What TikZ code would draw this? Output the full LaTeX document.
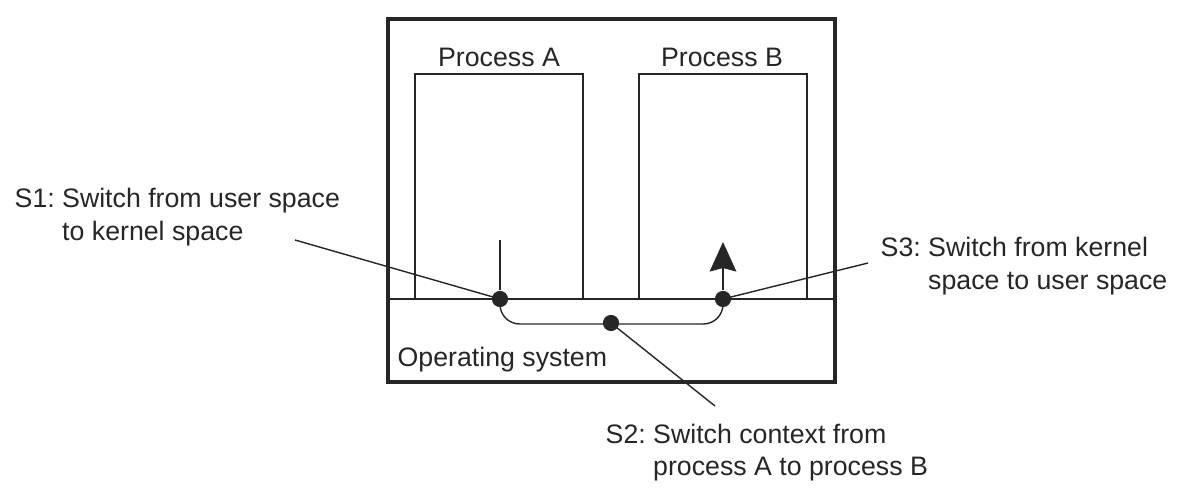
\documentclass[tikz,border=0pt]{standalone}
\usepackage{fontspec}
\setmainfont{Liberation Sans}
\usetikzlibrary{arrows.meta}

\newcommand{\switchtext}[3]{\begin{tabular}[t]{@{}l@{\ }l@{}}#1 & #2\\ & #3\end{tabular}}

\tikzset{
  dot/.style={circle, fill=black!85, inner sep=0pt, minimum size=11.5pt},
  txt/.style={anchor=base west, inner sep=0pt, font=\fontsize{19}{23.4}\selectfont}
}

\begin{document}
\begin{tikzpicture}[x=0.025cm, y=-0.025cm, line width=1pt, color=black!85]

\useasboundingbox (0,0) rectangle (1186,492);
%\draw (0,0) grid (1186,492);

\draw [line width=2.2pt] (388,19) rectangle (835,382);
\draw (415,74) rectangle (583,299); \node [txt, anchor=base] (procA) at (499,67) {Process A};
\draw (639,74) rectangle (807,299); \node [txt, anchor=base] (procB) at (722,67) {Process B};
\draw (388,299) -- (835,299); \node [txt] (os) at (397,367) {Operating system};

\node [dot] (s1dot) at (500,299) {};
\node [dot] (s2dot) at (611,323) {};
\node [dot] (s3dot) at (723,299) {};
\coordinate (s1top) at (500,240);
\coordinate (s3tip) at (723,242);

\draw [rounded corners=14pt] (s1dot.center) -- (500,324) -- (723,324) -- (s3dot.center);
\draw (s1dot) -- (s1top);
\draw [-{Stealth[length=21pt, width=19pt, inset=2.5pt]}] (s3dot) -- (s3tip);

\node [txt] (s1) at (14,208) {\switchtext{S1:}{Switch from user space}{to kernel space}};
\node [txt] (s3) at (880,257) {\switchtext{S3:}{Switch from kernel}{space to user space}};
\node [txt] (s2) at (605,443) {\switchtext{S2:}{Switch context from}{process A to process B}};

\coordinate (s1end) at (295,240); \draw (s1end) -- (s1dot.center);
\coordinate (s3end) at (868,263); \draw (s3end) -- (s3dot.center);
\coordinate (s2end) at (715,406); \draw (s2end) -- (s2dot.center);

\end{tikzpicture}
\end{document}
